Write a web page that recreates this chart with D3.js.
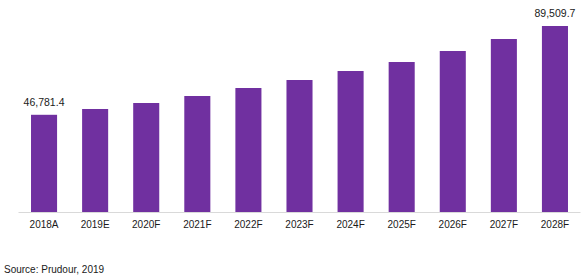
<!DOCTYPE html>
<html>
<head>
<meta charset="utf-8">
<script src="https://cdn.jsdelivr.net/npm/d3@7"></script>
<style>
  body { margin: 0; background: #fff; }
  text { font-family: "Liberation Sans", Arial, sans-serif; }
</style>
</head>
<body>
<svg width="582" height="279"></svg>
<script>
var years = ['2018A', '2019E', '2020F', '2021F', '2022F', '2023F', '2024F', '2025F', '2026F', '2027F', '2028F'];
var values = [46781.4, 49570, 52450, 55820, 59670, 63520, 67850, 72180, 77480, 83250, 89509.7];
var labelled = ['2018A', '2028F'];

var data = years.map(function(y, i) {
  return { year: y, value: values[i] };
});

var svg = d3.select('svg');

var x = d3.scaleBand()
  .domain(years)
  .range([18.5, 580.5])
  .paddingInner(0.49)
  .paddingOuter(0.245);

var y = d3.scaleLinear()
  .domain([0, 89509.7])
  .range([212, 26]);

svg.selectAll('rect')
  .data(data)
  .enter().append('rect')
  .attr('x', function(d) { return x(d.year); })
  .attr('y', function(d) { return y(d.value); })
  .attr('width', x.bandwidth())
  .attr('height', function(d) { return y(0) - y(d.value); })
  .attr('fill', '#7030a0');

// baseline
var xAxis = svg.append('g')
  .attr('transform', 'translate(0,' + y(0) + ')')
  .call(d3.axisBottom(x).tickSize(0).tickPadding(9));
xAxis.select('.domain').attr('stroke', '#d9d9d9').attr('d', 'M18.5,0.5H580.5');
xAxis.selectAll('text')
  .attr('font-size', 10)
  .attr('font-family', '"Liberation Sans", Arial, sans-serif')
  .attr('fill', '#1a1a1a');

// value labels for first and last bar
svg.selectAll('.val')
  .data(data.filter(function(d) { return labelled.indexOf(d.year) >= 0; }))
  .enter().append('text')
  .attr('class', 'val')
  .attr('x', function(d) { return x(d.year) + x.bandwidth() / 2; })
  .attr('y', function(d) { return y(d.value) - 9; })
  .attr('text-anchor', 'middle')
  .attr('font-size', 10.5)
  .attr('fill', '#1a1a1a')
  .text(function(d) { return d3.format(',.1f')(d.value); });

svg.append('text')
  .attr('x', 4)
  .attr('y', 273)
  .attr('font-size', 10)
  .attr('fill', '#1a1a1a')
  .text('Source: Prudour, 2019');
</script>
</body>
</html>
